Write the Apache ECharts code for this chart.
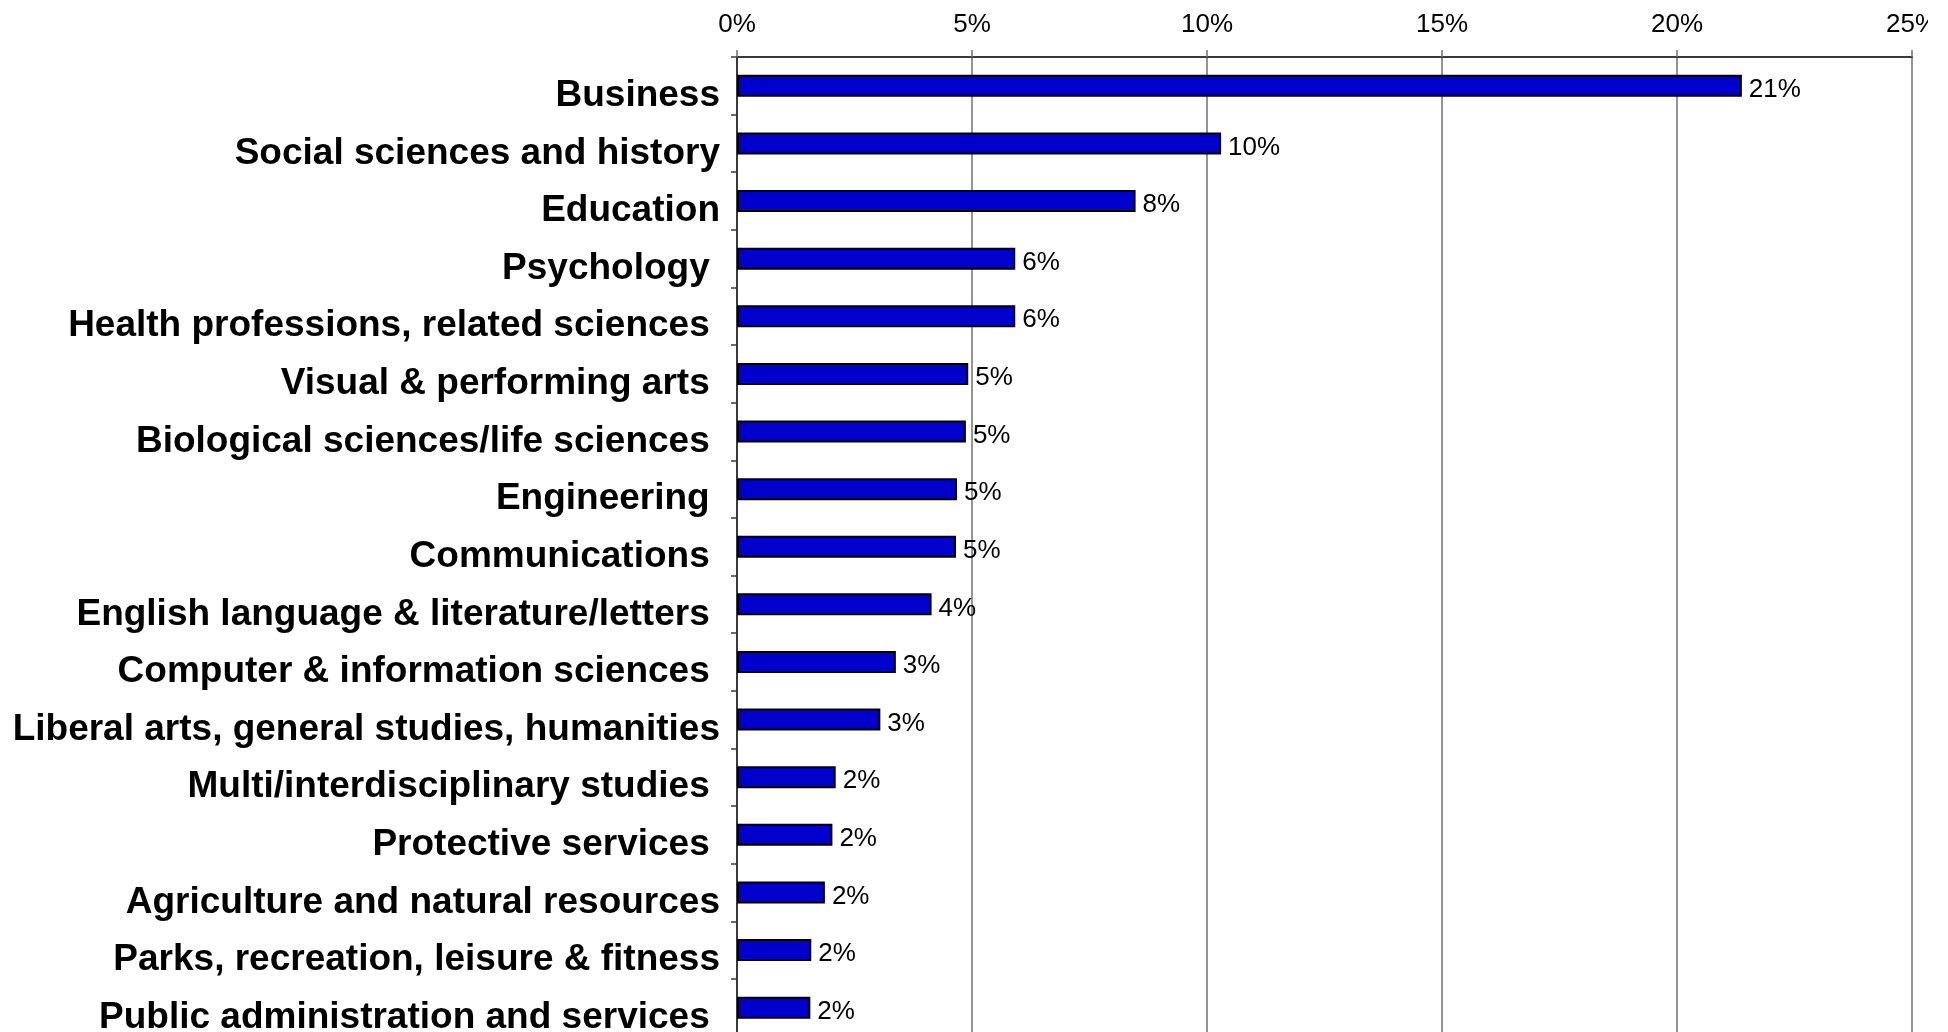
<!DOCTYPE html>
<html>
<head>
<meta charset="utf-8">
<title>Fields of study</title>
<script src="https://cdn.jsdelivr.net/npm/echarts@6/dist/echarts.min.js"></script>
<style>
  html, body { margin: 0; padding: 0; background: #ffffff; }
  #chart { width: 1928px; height: 1032px; overflow: hidden; }
</style>
</head>
<body>
<div id="chart"></div>
<script>
// Fields of study (trailing spaces kept as in the label text)
const categories = [
  'Business',
  'Social sciences and history',
  'Education',
  'Psychology ',
  'Health professions, related sciences ',
  'Visual & performing arts ',
  'Biological sciences/life sciences ',
  'Engineering ',
  'Communications ',
  'English language & literature/letters ',
  'Computer & information sciences ',
  'Liberal arts, general studies, humanities',
  'Multi/interdisciplinary studies ',
  'Protective services ',
  'Agriculture and natural resources',
  'Parks, recreation, leisure & fitness',
  'Public administration and services '
];

// Share of degrees, in percent
const shares = [
  21.38, 10.30, 8.48, 5.92, 5.92, 4.92, 4.87, 4.68, 4.66,
  4.14, 3.38, 3.05, 2.10, 2.03, 1.87, 1.58, 1.56
];

// Percentage axis ticks
const axisMin = 0;
const axisMax = 25;
const axisStep = 5;

const chart = echarts.init(document.getElementById('chart'), null, { renderer: 'canvas' });

chart.setOption({
  animation: false,
  backgroundColor: '#ffffff',
  grid: {
    left: 737,
    right: 16,
    top: 57,
    bottom: -4.5,
    containLabel: false,
    outerBoundsMode: 'none'
  },
  xAxis: {
    type: 'value',
    position: 'top',
    min: axisMin,
    max: axisMax,
    interval: axisStep,
    axisLine: { show: true, lineStyle: { color: '#3a3a3a', width: 2 } },
    axisTick: { show: true, length: 7, lineStyle: { color: '#707070', width: 1.5 } },
    axisLabel: {
      show: true,
      showMinLabel: true,
      showMaxLabel: true,
      margin: 19,
      color: '#000000',
      fontSize: 26,
      fontFamily: '"Liberation Sans", Arial, sans-serif',
      formatter: v => v + '%'
    },
    splitLine: { show: true, lineStyle: { color: '#707070', width: 1.5 } }
  },
  yAxis: {
    type: 'category',
    inverse: true,
    data: categories,
    axisLine: { show: true, lineStyle: { color: '#3a3a3a', width: 2 } },
    axisTick: { show: true, length: 6, alignWithLabel: false, lineStyle: { color: '#3a3a3a', width: 1.5 } },
    axisLabel: {
      interval: 0,
      margin: 17,
      color: '#000000',
      fontSize: 37,
      fontWeight: 'bold',
      fontFamily: '"Liberation Sans", Arial, sans-serif',
      verticalAlign: 'top',
      lineHeight: 20
    },
    splitLine: { show: false }
  },
  series: [{
    type: 'bar',
    data: shares,
    barWidth: 22,
    itemStyle: {
      color: '#0000cc',
      borderColor: '#000000',
      borderWidth: 2
    },
    label: {
      show: true,
      position: 'right',
      distance: 7,
      offset: [0, 4],
      color: '#000000',
      fontSize: 26,
      fontFamily: '"Liberation Sans", Arial, sans-serif',
      formatter: p => Math.round(p.value) + '%'
    }
  }]
});
</script>
</body>
</html>
